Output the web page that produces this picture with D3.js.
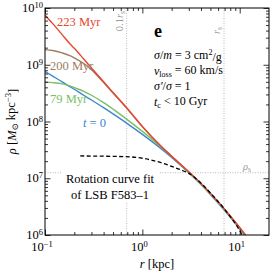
<!DOCTYPE html>
<html>
<head>
<meta charset="utf-8">
<script src="https://cdn.jsdelivr.net/npm/d3@7"></script>
<style>
  body { margin: 0; background: #fff; }
  text { font-family: "Liberation Serif", "DejaVu Serif", serif; }
</style>
</head>
<body>
<div id="chart"></div>
<script>
var width = 274, height = 277;

// density profiles, r in kpc, rho in Msun/kpc^3
var radii = [0.1, 0.12, 0.15, 0.18, 0.2, 0.25, 0.3, 0.4, 0.5, 0.7, 1, 1.5, 2, 3, 4, 5, 7, 9, 11, 12];
var rho223 = [7.5e9, 5.3e9, 3.4e9, 2.35e9, 1.95e9, 1.26e9, 8.8e8, 5.0e8, 3.25e8, 1.7e8, 8.2e7, 3.9e7, 2.45e7, 1.3e7, 8.1e6, 5.45e6, 2.85e6, 1.7e6, 1.1e6, 9.0e5];
var rho200 = [1.85e9, 1.78e9, 1.62e9, 1.45e9, 1.32e9, 1.05e9, 8.2e8, 4.85e8, 3.18e8, 1.68e8, 8.1e7, 3.9e7, 2.43e7, 1.29e7, 8.05e6, 5.4e6, 2.83e6, 1.69e6, 1.09e6, 8.9e5];
var rho79 = [5.0e8, 4.85e8, 4.6e8, 4.25e8, 3.95e8, 3.4e8, 2.9e8, 2.15e8, 1.65e8, 1.08e8, 6.7e7, 3.75e7, 2.42e7, 1.28e7, 7.9e6, 5.3e6, 2.78e6, 1.66e6, 1.07e6, 8.8e5];
var rho0 = [7.6e8, 6.3e8, 5.0e8, 4.1e8, 3.7e8, 2.9e8, 2.39e8, 1.75e8, 1.36e8, 9.2e7, 5.94e7, 3.5e7, 2.33e7, 1.255e7, 7.75e6, 5.19e6, 2.71e6, 1.61e6, 1.04e6, 8.5e5];

// rotation curve fit (dashed)
var fitR = [0.23, 0.3, 0.5, 0.75, 1, 1.2, 1.6, 2, 2.5, 3, 4, 5, 6, 7, 8, 9, 10, 10.6, 11];
var fitRho = [2.47e7, 2.46e7, 2.43e7, 2.38e7, 2.25e7, 2.12e7, 1.85e7, 1.62e7, 1.4e7, 1.22e7, 8.2e6, 5.5e6, 3.9e6, 2.85e6, 2.1e6, 1.6e6, 1.2e6, 1.0e6, 9.0e5];

var series = [
  {name: "223 Myr", vals: rho223, color: "#e4472f"},
  {name: "200 Myr", vals: rho200, color: "#9d7d5f"},
  {name: "79 Myr", vals: rho79, color: "#76c164"},
  {name: "t = 0", vals: rho0, color: "#3d85d1"}
];

var rs = 6.9, rhos = 1.25e7;
var xMajor = [0.1, 1, 10], yMajor = [1e6, 1e7, 1e8, 1e9, 1e10];

var mLeft = 45, mRight = 269, mTop = 8, mBottom = 235;

var svg = d3.select("#chart").append("svg")
    .attr("width", width)
    .attr("height", height);

var x = d3.scaleLog().domain([0.1, 20]).range([mLeft, mRight]);
var y = d3.scaleLog().domain([1e6, 1e10]).range([mBottom, mTop]);

svg.append("clipPath").attr("id", "clip")
  .append("rect").attr("x", mLeft).attr("y", mTop)
    .attr("width", mRight - mLeft).attr("height", mBottom - mTop);

var plot = svg.append("g").attr("clip-path", "url(#clip)");

// reference lines
var gray = "#aaaaaa";
plot.append("line").attr("x1", x(0.1 * rs)).attr("x2", x(0.1 * rs))
    .attr("y1", mTop).attr("y2", mBottom)
    .attr("stroke", gray).attr("stroke-width", 0.8).attr("stroke-dasharray", "1,1.5");
plot.append("line").attr("x1", x(rs)).attr("x2", x(rs))
    .attr("y1", mTop).attr("y2", mBottom)
    .attr("stroke", gray).attr("stroke-width", 0.8).attr("stroke-dasharray", "1,1.5");
plot.append("line").attr("x1", mLeft).attr("x2", mRight)
    .attr("y1", y(rhos)).attr("y2", y(rhos))
    .attr("stroke", gray).attr("stroke-width", 0.8).attr("stroke-dasharray", "1,1.5");

var line = d3.line()
    .x(function(d) { return x(d[0]); })
    .y(function(d) { return y(d[1]); })
    .curve(d3.curveMonotoneX);

// draw t=0 first so the later ones sit on top
series.slice().reverse().forEach(function(s) {
  plot.append("path")
      .datum(radii.map(function(r, i) { return [r, s.vals[i]]; }))
      .attr("d", line)
      .attr("fill", "none")
      .attr("stroke", s.color)
      .attr("stroke-width", 1.4);
});

plot.append("path")
    .datum(fitR.map(function(r, i) { return [r, fitRho[i]]; }))
    .attr("d", line)
    .attr("fill", "none")
    .attr("stroke", "#000")
    .attr("stroke-width", 1.3)
    .attr("stroke-dasharray", "4,2.5");

// axes: inward ticks on all four sides
function minors(lo, hi) {
  var out = [];
  for (var e = lo; e < hi; e++)
    for (var k = 2; k <= 9; k++) out.push(k * Math.pow(10, e));
  return out;
}
var xMinor = minors(-1, 2).filter(function(v) { return v < 20; });
var yMinor = minors(6, 10);

function addAxis(axisFn, scale, vals, size, tx, ty) {
  var g = svg.append("g")
      .attr("transform", "translate(" + tx + "," + ty + ")")
      .call(axisFn(scale).tickValues(vals).tickSize(-size).tickFormat(""));
  g.select(".domain").remove();
  g.selectAll("line").attr("stroke", "#000").attr("stroke-width", 0.8);
}
addAxis(d3.axisBottom, x, xMajor, 5.5, 0, mBottom);
addAxis(d3.axisBottom, x, xMinor, 3, 0, mBottom);
addAxis(d3.axisTop, x, xMajor, 5.5, 0, mTop);
addAxis(d3.axisTop, x, xMinor, 3, 0, mTop);
addAxis(d3.axisLeft, y, yMajor, 5.5, mLeft, 0);
addAxis(d3.axisLeft, y, yMinor, 3, mLeft, 0);
addAxis(d3.axisRight, y, yMajor, 5.5, mRight, 0);
addAxis(d3.axisRight, y, yMinor, 3, mRight, 0);

svg.append("rect")
    .attr("x", mLeft).attr("y", mTop)
    .attr("width", mRight - mLeft).attr("height", mBottom - mTop)
    .attr("fill", "none").attr("stroke", "#000").attr("stroke-width", 1);

// tick labels 10^k
function pow10(sel, v) {
  var e = Math.round(Math.log10(v));
  sel.append("tspan").text("10");
  sel.append("tspan").attr("dy", "-0.45em").attr("font-size", "8.5px")
      .text(e < 0 ? "\u2212" + (-e) : e);
}
xMajor.forEach(function(v) {
  var t = svg.append("text").attr("x", x(v) - 3).attr("y", 251)
      .attr("text-anchor", "middle").attr("font-size", "12.5px");
  pow10(t, v);
});
yMajor.forEach(function(v) {
  var t = svg.append("text").attr("x", mLeft - 2).attr("y", y(v) + 4)
      .attr("text-anchor", "end").attr("font-size", "12.5px");
  pow10(t, v);
});

// axis titles
var xl = svg.append("text").attr("x", (mLeft + mRight) / 2).attr("y", 268)
    .attr("text-anchor", "middle").attr("font-size", "12.5px");
xl.append("tspan").attr("font-style", "italic").text("r");
xl.append("tspan").text(" [kpc]");

var yl = svg.append("text")
    .attr("transform", "translate(16," + (mTop + mBottom) / 2 + ") rotate(-90)")
    .attr("text-anchor", "middle").attr("font-size", "12.5px");
yl.append("tspan").attr("font-style", "italic").text("\u03c1");
yl.append("tspan").text(" [");
yl.append("tspan").attr("font-style", "italic").text("M");
yl.append("tspan").attr("dy", "0.25em").attr("font-size", "8.5px").text("\u2299");
yl.append("tspan").attr("dy", "-0.25em").text(" kpc");
yl.append("tspan").attr("dy", "-0.45em").attr("font-size", "8.5px").text("\u22123");
yl.append("tspan").attr("dy", "0.45em").text("]");

// curve labels
var labelPos = [[57, 26], [50, 70], [50, 103], [83, 127]];
series.forEach(function(s, i) {
  var t = svg.append("text").attr("x", labelPos[i][0]).attr("y", labelPos[i][1])
      .attr("fill", s.color).attr("font-size", "12.5px");
  if (s.name === "t = 0") {
    t.append("tspan").attr("font-style", "italic").text("t");
    t.append("tspan").text(" = 0");
  } else {
    t.text(s.name);
  }
});

// reference line labels
svg.append("text")
    .attr("transform", "translate(" + (x(0.1 * rs) - 4) + ",11) rotate(-90)")
    .attr("text-anchor", "end").attr("fill", "#999").attr("font-size", "10.5px")
    .call(function(t) {
      t.append("tspan").text("0.1");
      t.append("tspan").attr("font-style", "italic").text("r");
      t.append("tspan").attr("dy", "0.3em").attr("font-size", "7.5px").text("s");
    });
svg.append("text")
    .attr("transform", "translate(" + (x(rs) - 4) + ",27) rotate(-90)")
    .attr("text-anchor", "end").attr("fill", "#999").attr("font-size", "10.5px")
    .call(function(t) {
      t.append("tspan").attr("font-style", "italic").text("r");
      t.append("tspan").attr("dy", "0.3em").attr("font-size", "7.5px").text("s");
    });
svg.append("text").attr("x", 243).attr("y", y(rhos) - 3)
    .attr("fill", "#999").attr("font-size", "10.5px")
    .call(function(t) {
      t.append("tspan").attr("font-style", "italic").text("\u03c1");
      t.append("tspan").attr("dy", "0.3em").attr("font-size", "7.5px").text("s");
    });

// rotation curve note with white box
svg.append("rect").attr("x", 61).attr("y", 171).attr("width", 99).attr("height", 32)
    .attr("fill", "#fff");
svg.append("text").attr("x", 110).attr("y", 183).attr("text-anchor", "middle")
    .attr("font-size", "12.5px").text("Rotation curve fit");
svg.append("text").attr("x", 110).attr("y", 199).attr("text-anchor", "middle")
    .attr("font-size", "12.5px").text("of LSB F583\u20131");

// panel letter and parameters
svg.append("text").attr("x", 154).attr("y", 37)
    .attr("font-size", "18px").attr("font-weight", "bold").text("e");

var params = svg.append("g").attr("font-size", "12px");
var p1 = params.append("text").attr("x", 154).attr("y", 59);
p1.append("tspan").attr("font-style", "italic").text("\u03c3");
p1.append("tspan").text("/");
p1.append("tspan").attr("font-style", "italic").text("m");
p1.append("tspan").text(" = 3 cm");
p1.append("tspan").attr("dy", "-0.45em").attr("font-size", "8px").text("2");
p1.append("tspan").attr("dy", "0.45em").text("/g");

var p2 = params.append("text").attr("x", 154).attr("y", 75);
p2.append("tspan").attr("font-style", "italic").text("v");
p2.append("tspan").attr("dy", "0.25em").attr("font-size", "8px").text("loss");
p2.append("tspan").attr("dy", "-0.25em").text(" = 60 km/s");

var p3 = params.append("text").attr("x", 154).attr("y", 90);
p3.append("tspan").attr("font-style", "italic").text("\u03c3\u2032");
p3.append("tspan").text("/");
p3.append("tspan").attr("font-style", "italic").text("\u03c3");
p3.append("tspan").text(" = 1");

var p4 = params.append("text").attr("x", 154).attr("y", 106);
p4.append("tspan").attr("font-style", "italic").text("t");
p4.append("tspan").attr("dy", "0.25em").attr("font-size", "8px").text("c");
p4.append("tspan").attr("dy", "-0.25em").text(" < 10 Gyr");
</script>
</body>
</html>
